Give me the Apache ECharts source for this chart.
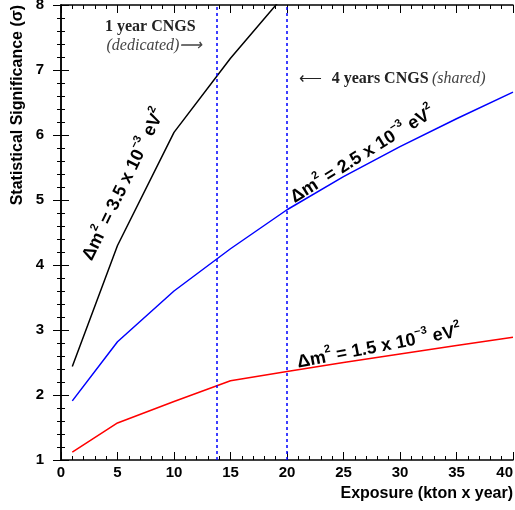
<!DOCTYPE html>
<html>
<head>
<meta charset="utf-8">
<script src="https://cdn.jsdelivr.net/npm/echarts@6/dist/echarts.min.js"></script>
<style>
  body { margin: 0; background: #fff; }
  #chart { width: 515px; height: 510px; }
</style>
</head>
<body>
<div id="chart"></div>
<script>
// exposure (kton x year)
const exposure = [1, 5, 10, 15, 20, 25, 30, 35, 40]
const sig15 = [1.12, 1.57, 1.90, 2.22, 2.36, 2.50, 2.63, 2.76, 2.89]
const sig25 = [1.91, 2.82, 3.60, 4.25, 4.85, 5.36, 5.82, 6.25, 6.66]
const sig35 = [2.44, 4.30, 6.04, 7.18, 8.20]
const cngsLines = [13.8, 20]

const pairs = (ys) => ys.map((y, i) => [exposure[i], y])

const myChart = echarts.init(document.getElementById('chart'))

const tickStyle = { color: '#000', width: 1 }
const xBase = {
  type: 'value', min: 0, max: 40, interval: 5,
  axisLine: { show: true, lineStyle: { color: '#000', width: 1.5 } },
  axisTick: { inside: true, length: 8, lineStyle: tickStyle },
  minorTick: { show: true, splitNumber: 5, length: 4, lineStyle: tickStyle },
  splitLine: { show: false }
}
const yBase = {
  type: 'value', min: 1, max: 8, interval: 1,
  axisLine: { show: true, lineStyle: { color: '#000', width: 1.5 } },
  axisTick: { inside: true, length: 8, lineStyle: tickStyle },
  minorTick: { show: true, splitNumber: 5, length: 4, lineStyle: tickStyle },
  splitLine: { show: false }
}

myChart.setOption({
  animation: false,
  textStyle: { fontFamily: 'Liberation Sans' },
  grid: { left: 61, right: 2, top: 5, bottom: 50, containLabel: false, outerBoundsMode: 'none' },
  xAxis: [
    Object.assign({}, xBase, {
      position: 'bottom',
      axisLabel: { fontSize: 15, fontWeight: 'bold', color: '#000', margin: 5, alignMaxLabel: 'right' }
    }),
    Object.assign({}, xBase, { position: 'top', axisLabel: { show: false } })
  ],
  yAxis: [
    Object.assign({}, yBase, {
      position: 'left',
      axisLabel: { fontSize: 15, fontWeight: 'bold', color: '#000', margin: 17 }
    }),
    Object.assign({}, yBase, { position: 'right', axisLabel: { show: false } })
  ],
  series: [
    {
      type: 'line', data: pairs(sig15), showSymbol: false,
      lineStyle: { color: '#ff0000', width: 1.5 }
    },
    {
      type: 'line', data: pairs(sig25), showSymbol: false,
      lineStyle: { color: '#0000ff', width: 1.5 },
      markLine: {
        silent: true, symbol: 'none', label: { show: false },
        lineStyle: { color: '#0000ff', type: [3, 3], width: 1.5 },
        data: cngsLines.map(x => ({ xAxis: x }))
      }
    },
    {
      type: 'line', data: pairs(sig35), showSymbol: false,
      lineStyle: { color: '#000', width: 1.5 }
    }
  ]
})

function at (x, y) {
  return myChart.convertToPixel({ xAxisIndex: 0, yAxisIndex: 0 }, [x, y])
}
function deg (d) { return d * Math.PI / 180 }

const dmRich = {
  n: { font: 'bold 18px "Liberation Sans"', fill: '#000', lineHeight: 22, verticalAlign: 'bottom' },
  s: { font: 'bold 11px "Liberation Sans"', fill: '#000', lineHeight: 22, verticalAlign: 'top' }
}
function dmLabel (val, x, y, rot) {
  const p = at(x, y)
  return {
    type: 'text', x: p[0], y: p[1], rotation: deg(rot),
    style: {
      text: '{n|Δm}{s|2}{n| = ' + val + ' x 10}{s|−3}{n| eV}{s|2}',
      rich: dmRich, align: 'center', verticalAlign: 'middle'
    }
  }
}

const p1 = at(7.9, 7.66)
const p2 = at(8.27, 7.38)
const p3 = at(29.3, 6.86)

myChart.setOption({
  graphic: [
    dmLabel('3.5', 5.4, 5.25, 64),
    dmLabel('2.5', 26.6, 5.72, 32),
    dmLabel('1.5', 28.1, 2.77, 11),
    {
      type: 'text', x: p1[0], y: p1[1],
      style: { text: '1 year CNGS', font: 'bold 16px "Liberation Serif"', fill: '#222', align: 'center', verticalAlign: 'middle' }
    },
    {
      type: 'text', x: p2[0], y: p2[1],
      style: { text: '(dedicated)⟶', font: 'italic 16px "Liberation Serif"', fill: '#444', align: 'center', verticalAlign: 'middle' }
    },
    {
      type: 'text', x: p3[0], y: p3[1],
      style: {
        text: '{a|⟵}   {b|4 years CNGS} {c|(shared)}',
        align: 'center', verticalAlign: 'middle',
        rich: {
          a: { font: '16px "Liberation Serif"', fill: '#222' },
          b: { font: 'bold 16px "Liberation Serif"', fill: '#222' },
          c: { font: 'italic 16px "Liberation Serif"', fill: '#444' }
        }
      }
    },
    {
      type: 'text', x: 18, y: 5, rotation: Math.PI / 2,
      style: { text: 'Statistical Significance (σ)', font: 'bold 16px "Liberation Sans"', fill: '#000', align: 'right', verticalAlign: 'middle' }
    },
    {
      type: 'text', x: 513, y: 494,
      style: { text: 'Exposure (kton x year)', font: 'bold 16px "Liberation Sans"', fill: '#000', align: 'right', verticalAlign: 'middle' }
    }
  ]
})

window.addEventListener('resize', () => {
  myChart.resize()
})
</script>
</body>
</html>
